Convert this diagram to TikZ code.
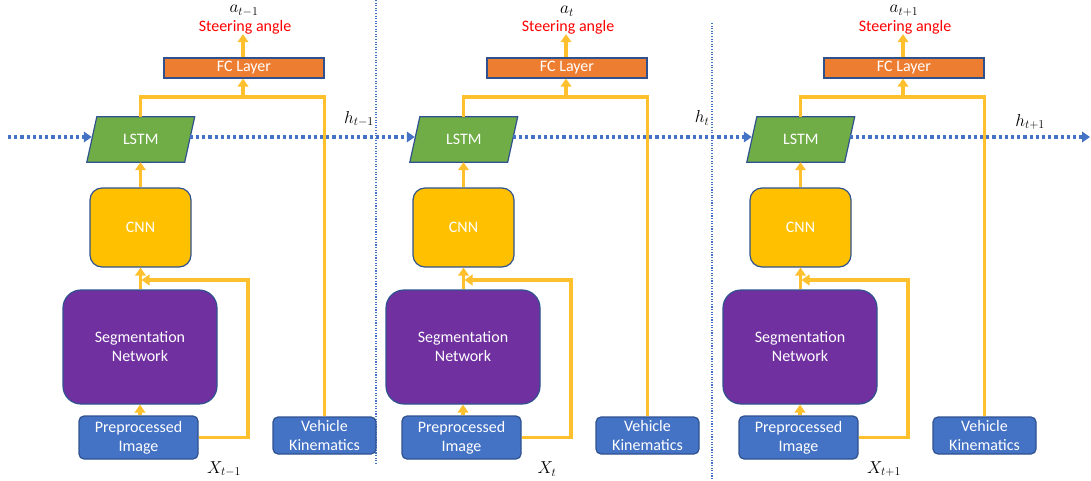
\documentclass[tikz,border=0pt]{standalone}
\usepackage{fontspec}
\setmainfont{Carlito}
\usetikzlibrary{arrows.meta}
\definecolor{fcorange}{HTML}{ED7D31}
\definecolor{lstmgreen}{HTML}{70AD47}
\definecolor{cnnyellow}{HTML}{FFC000}
\definecolor{linkyellow}{HTML}{FFC02E}
\definecolor{segpurple}{HTML}{7030A0}
\definecolor{inblue}{HTML}{4472C4}
\definecolor{edgeblue}{HTML}{2F528F}
\definecolor{hidblue}{HTML}{4472C4}
\tikzset{
  box/.style={draw=edgeblue, line width=1.2pt, text=white, align=center,
    font=\fontsize{16}{19}\selectfont, inner sep=0pt},
  fcbox/.style={box, fill=fcorange, minimum width=160pt, minimum height=20pt},
  cnnbox/.style={box, fill=cnnyellow, rounded corners=12pt, minimum width=101pt, minimum height=79pt},
  segbox/.style={box, fill=segpurple, rounded corners=18pt, minimum width=154pt, minimum height=114pt},
  inbox/.style={box, fill=inblue, rounded corners=5pt},
  lstmframe/.style={inner sep=0pt, minimum width=97.5pt, minimum height=45pt},
  lstmshape/.style={draw=edgeblue, line width=1.2pt, fill=lstmgreen},
  plain/.style={text=white, font=\fontsize{16}{19}\selectfont, inner sep=0pt},
  outlabel/.style={text=red, font=\fontsize{16}{19}\selectfont, inner sep=0pt},
  mathlabel/.style={font=\fontsize{17.5}{20}\selectfont, inner sep=0pt},
  flow/.style={draw=linkyellow, line width=3.2pt},
  flowarrow/.style={flow, -{Triangle[width=10.5pt,length=8pt]}},
  hidden/.style={draw=hidblue, line width=3.2pt, dash pattern=on 3.2pt off 3pt,
    -{Triangle[width=10.5pt,length=8pt,fill=hidblue]}},
  divider/.style={draw=hidblue, line width=1.1pt, dash pattern=on 1.1pt off 1.5pt},
}
\begin{document}
\begin{tikzpicture}[x=1pt,y=-1pt]
\useasboundingbox (0,0) rectangle (1091,481);

% time-step separators
\draw[divider] (376,0) -- (376,465);
\draw[divider] (712,23) -- (712,481);

\foreach \dx/\n/\s in {0/1/t-1, 323/2/t, 660/3/t+1}{
  % blocks of one time step
  \node[fcbox] (fc\n) at (\dx+244,68) {FC Layer};
  \node[outlabel] (steer\n) at (\dx+245,27) {Steering angle};
  \node[mathlabel] (a\n) at (\dx+244,11) {$a_{\s}$};
  \node[lstmframe] (L\n) at (\dx+140.75,139.5) {};
  \draw[lstmshape] ([xshift=-5pt]L\n.south west) -- ([xshift=5pt]L\n.north west)
    -- ([xshift=5pt]L\n.north east) -- ([xshift=-5pt]L\n.south east) -- cycle;
  \node[plain] (Lt\n) at (L\n) {LSTM};
  \node[cnnbox] (cnn\n) at (\dx+140.5,227.5) {CNN};
  \node[segbox] (seg\n) at (\dx+140,347) {Segmentation\\Network};
  \node[inbox, minimum width=119pt, minimum height=43pt] (pre\n) at (\dx+138.5,437.5) {Preprocessed\\Image};
  \node[inbox, minimum width=103pt, minimum height=37pt] (vk\n) at (\dx+324.5,435.5) {Vehicle\\Kinematics};
  \node[mathlabel] (x\n) at (\dx+224,469) {$X_{\s}$};

  % yellow data flow
  \coordinate (top\n) at (\dx+243,97);
  \coordinate (fb\n) at (\dx+248,280);
  \draw[flow] (vk\n.north) |- (top\n) -| (L\n.north -| cnn\n.north);
  \draw[flowarrow] (top\n) -- (top\n |- fc\n.south);
  \draw[flowarrow] (fc\n.north -| top\n) -- (steer\n.south -| top\n);
  \draw[flowarrow] (cnn\n.north) -- (cnn\n.north |- L\n.south);
  \draw[flowarrow] (seg\n.north -| cnn\n.south) -- (cnn\n.south);
  \draw[flowarrow] (pre\n.east) -| (fb\n) -- ([xshift=1pt]fb\n -| cnn\n.south);
  \draw[flowarrow] (pre\n.north -| seg\n.south) -- (seg\n.south);
}

% hidden state passed between time steps
\coordinate (hin) at (8,137);
\coordinate (hout) at (1090,137);
\draw[hidden] (hin) -- (hin -| L1.west);
\draw[hidden] (L1.east |- hin) -- (hin -| L2.west);
\draw[hidden] (L2.east |- hin) -- (hin -| L3.west);
\draw[hidden] (L3.east |- hin) -- (hout);
\node[mathlabel] (h1) at (359,119) {$h_{t-1}$};
\node[mathlabel] (h2) at (702,118) {$h_{t}$};
\node[mathlabel] (h3) at (1030,122) {$h_{t+1}$};
\end{tikzpicture}
\end{document}
